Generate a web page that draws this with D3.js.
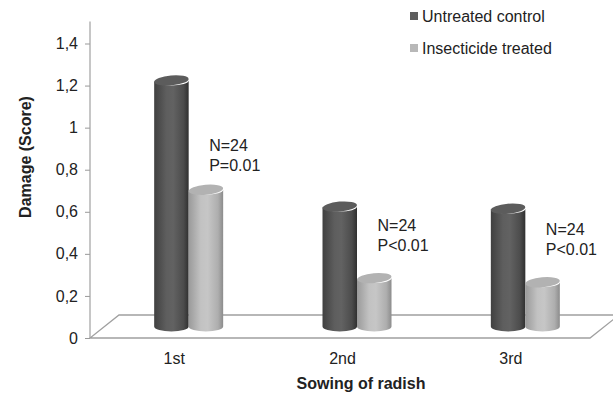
<!DOCTYPE html>
<html>
<head>
<meta charset="utf-8">
<script src="https://cdn.jsdelivr.net/npm/d3@7"></script>
<style>
  body { margin: 0; background: #fff; }
  text { font-family: "Liberation Sans", Arial, sans-serif; fill: #222; }
</style>
</head>
<body>
<svg id="chart" width="613" height="398"></svg>
<script>
// data
var categories = ["1st", "2nd", "3rd"];
var series = ["Untreated control", "Insecticide treated"];
var untreated = [1.17, 0.57, 0.56];
var treated = [0.65, 0.23, 0.21];
var yTicks = [0, 0.2, 0.4, 0.6, 0.8, 1, 1.2, 1.4];
var yTickLabels = ["0", "0,2", "0,4", "0,6", "0,8", "1", "1,2", "1,4"];
var annoLines = [["N=24", "P=0.01"], ["N=24", "P<0.01"], ["N=24", "P<0.01"]];
var annoAt = [0.90, 0.52, 0.50]; // where the N/P notes sit, in score units

var svg = d3.select("#chart"),
    margin = {top: 43.5, left: 90, bottom: 60, right: 18},
    width = +svg.attr("width"),
    height = +svg.attr("height");

// 3d depth of the floor
var depth = {dx: 29, dy: -23};

var x = d3.scaleBand()
    .domain(categories)
    .range([margin.left, width - margin.right])
    .padding(0);

var xSub = d3.scaleBand()
    .domain(series)
    .range([0, x.bandwidth()])
    .paddingInner(0)
    .paddingOuter(1.44);

var y = d3.scaleLinear()
    .domain([0, 1.4])
    .range([height - margin.bottom, margin.top]);

var z = d3.scaleOrdinal()
    .domain(series)
    .range(["dark", "light"]);

var defs = svg.append("defs");

function grad(id, stops) {
  var g = defs.append("linearGradient").attr("id", id)
      .attr("x1", "0%").attr("x2", "100%").attr("y1", "0%").attr("y2", "0%");
  stops.forEach(function(s) {
    g.append("stop").attr("offset", s[0]).attr("stop-color", s[1]);
  });
}
grad("dark", [["0%", "#404040"], ["35%", "#5e5e5e"], ["55%", "#626262"], ["85%", "#4c4c4c"], ["100%", "#303030"]]);
grad("light", [["0%", "#9a9a9a"], ["35%", "#c2c2c2"], ["55%", "#c6c6c6"], ["85%", "#aeaeae"], ["100%", "#8c8c8c"]]);
var topFill = {dark: "#5c5c5c", light: "#b2b2b2"};
var legendFill = {dark: "#5e5e5e", light: "#b8b8b8"};

// floor
var y0 = y(0), xl = x.range()[0], xr = x.range()[1] - 5;
svg.append("path")
    .attr("d", "M" + xl + "," + y0 + "L" + xr + "," + y0 +
        "L" + (xr + depth.dx) + "," + (y0 + depth.dy) +
        "L" + (xl + depth.dx) + "," + (y0 + depth.dy) + "Z")
    .attr("fill", "none")
    .attr("stroke", "#a0a0a0")
    .attr("stroke-width", 1.3);

// y axis
var yAxis = svg.append("g")
    .attr("transform", "translate(" + margin.left + ",0)")
    .call(d3.axisLeft(y).tickValues(yTicks).tickSize(5).tickPadding(7)
        .tickFormat(function(d, i) { return yTickLabels[i]; }));
yAxis.select(".domain").remove();
yAxis.selectAll("line").attr("stroke", "#999");
yAxis.selectAll("text").style("font-size", "16px").attr("fill", "#222");
svg.append("line")
    .attr("x1", margin.left).attr("x2", margin.left)
    .attr("y1", y(0)).attr("y2", y(1.4) + depth.dy + 1)
    .attr("stroke", "#a0a0a0").attr("stroke-width", 1.2);

// x axis labels
var xAxis = svg.append("g")
    .attr("transform", "translate(0," + (y0 + 12) + ")")
    .call(d3.axisBottom(x).tickSize(0));
xAxis.select(".domain").remove();
xAxis.selectAll("text").style("font-size", "16px").attr("fill", "#222");

// cylinders, placed in the middle of the floor depth
var rows = [];
categories.forEach(function(c, i) {
  rows.push({cat: c, key: series[0], value: untreated[i]});
  rows.push({cat: c, key: series[1], value: treated[i]});
});

var mdx = depth.dx / 2, mdy = depth.dy / 2;
var rx = xSub.bandwidth() / 2, ry = 5;

var bars = svg.selectAll("g.bar")
    .data(rows)
    .enter().append("g")
    .attr("class", "bar");

bars.append("path")
    .attr("d", function(d) {
      var x0 = x(d.cat) + xSub(d.key) + mdx, x1 = x0 + 2 * rx;
      var yb = y(0) + mdy, yt = y(d.value) + mdy;
      return "M" + x0 + "," + yt + "L" + x0 + "," + yb +
          "A" + rx + "," + ry + " 0 0 0 " + x1 + "," + yb +
          "L" + x1 + "," + yt +
          "A" + rx + "," + ry + " 0 0 1 " + x0 + "," + yt + "Z";
    })
    .attr("fill", function(d) { return "url(#" + z(d.key) + ")"; });

bars.append("ellipse")
    .attr("cx", function(d) { return x(d.cat) + xSub(d.key) + mdx + rx; })
    .attr("cy", function(d) { return y(d.value) + mdy; })
    .attr("rx", rx)
    .attr("ry", ry)
    .attr("transform", function(d) {
      return "rotate(-5," + (x(d.cat) + xSub(d.key) + mdx + rx) + "," + (y(d.value) + mdy) + ")";
    })
    .attr("fill", function(d) { return topFill[z(d.key)]; });

// N / P notes
var notes = svg.selectAll(".note")
    .data(categories)
    .enter().append("text")
    .attr("class", "note")
    .attr("x", function(d) { return x(d) + x.bandwidth() / 2 + 35; })
    .attr("y", function(d, i) { return y(annoAt[i]) + 2; })
    .style("font-size", "16px");
notes.selectAll("tspan")
    .data(function(d, i) { return annoLines[i]; })
    .enter().append("tspan")
    .attr("x", function() { return d3.select(this.parentNode).attr("x"); })
    .attr("dy", function(d, i) { return i ? 20 : 0; })
    .text(function(d) { return d; });

// axis titles
svg.append("text")
    .attr("transform", "translate(31," + 157 + ") rotate(-90)")
    .attr("text-anchor", "middle")
    .style("font-size", "16px")
    .style("font-weight", "bold")
    .text("Damage (Score)");

svg.append("text")
    .attr("x", 361)
    .attr("y", 389)
    .attr("text-anchor", "middle")
    .style("font-size", "16px")
    .style("font-weight", "bold")
    .text("Sowing of radish");

// legend
var legend = svg.selectAll(".legend")
    .data(series)
    .enter().append("g")
    .attr("class", "legend")
    .attr("transform", function(d, i) { return "translate(410," + (16 + i * 32) + ")"; });

legend.append("rect")
    .attr("x", 0)
    .attr("y", -4)
    .attr("width", 8)
    .attr("height", 8)
    .style("fill", function(d) { return legendFill[z(d)]; });

legend.append("text")
    .attr("x", 12)
    .attr("y", 0)
    .attr("dy", ".35em")
    .style("font-size", "16px")
    .text(function(d) { return d; });
</script>
</body>
</html>
